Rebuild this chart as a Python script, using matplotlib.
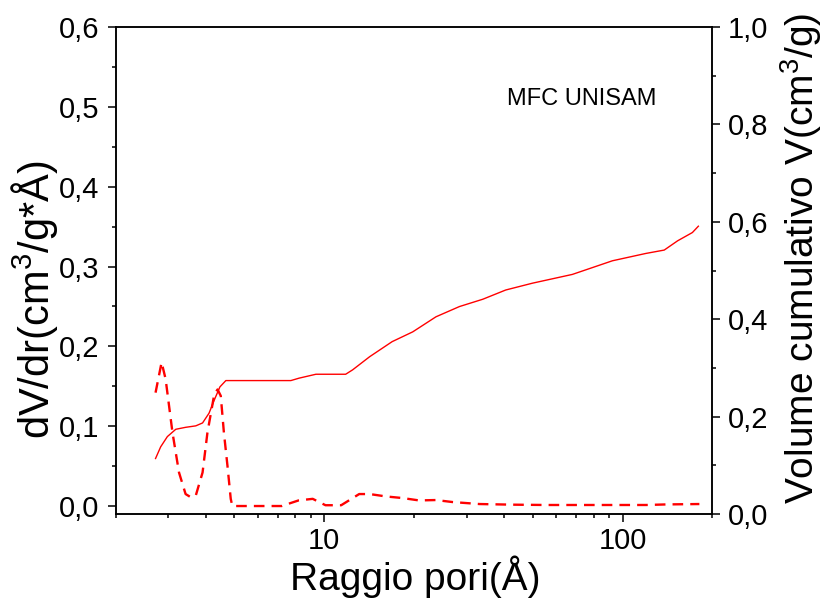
import matplotlib
matplotlib.use("Agg")
import matplotlib.pyplot as plt
from matplotlib.ticker import FuncFormatter, MultipleLocator, LogLocator, NullFormatter

plt.rcParams["font.family"] = ["Liberation Sans", "DejaVu Sans"]
plt.rcParams["mathtext.fontset"] = "custom"
plt.rcParams["mathtext.rm"] = "Liberation Sans"
plt.rcParams["mathtext.it"] = "Liberation Sans"

# dV/dr (left axis, dashed)
r_dv = [2.72, 2.85, 2.94, 3.10, 3.26, 3.43, 3.57, 3.71, 3.91, 4.06, 4.28, 4.39, 4.50,
        4.61, 4.74, 4.86, 4.92, 6.0, 7.2, 8.2, 9.15, 10.1, 11.4, 13.1, 14.2, 16.1,
        18.3, 20.8, 23.7, 26.9, 33.1, 42.8, 55.4, 72.0, 92.6, 120.0, 140.0, 181.0]
dvdr = [0.142, 0.180, 0.159, 0.092, 0.042, 0.015, 0.011, 0.013, 0.042, 0.092, 0.140,
        0.146, 0.138, 0.092, 0.050, 0.009, 0.0, 0.0, 0.0, 0.007, 0.009, 0.001, 0.001,
        0.015, 0.015, 0.012, 0.010, 0.007, 0.0075, 0.005, 0.0025, 0.0017, 0.0013,
        0.0013, 0.0013, 0.0013, 0.002, 0.0025]

# cumulative volume (right axis, solid)
r_cum = [2.72, 2.83, 2.98, 3.18, 3.43, 3.71, 3.91, 4.11, 4.28, 4.47, 4.68, 7.73, 8.24,
         9.38, 11.8, 12.45, 14.2, 16.9, 19.8, 23.7, 28.4, 34.0, 40.6, 49.9, 67.9,
         92.5, 119.6, 138.0, 153.0, 171.5, 179.6]
vcum = [0.114, 0.138, 0.159, 0.174, 0.178, 0.181, 0.187, 0.207, 0.234, 0.261, 0.274,
        0.274, 0.279, 0.287, 0.287, 0.296, 0.323, 0.354, 0.374, 0.405, 0.426, 0.441,
        0.460, 0.474, 0.492, 0.520, 0.535, 0.542, 0.561, 0.578, 0.591]

fig = plt.figure(figsize=(8.23, 6.06), dpi=100)
ax = fig.add_axes([0.1406, 0.1518, 0.7249, 0.8036])
ax2 = ax.twinx()

ax.plot(r_dv, dvdr, color="#ff0000", linewidth=1.7, dashes=(4.5, 3))
ax2.plot(r_cum, vcum, color="#ff0000", linewidth=1.0)

ax.set_xscale("log")
ax.set_xlim(2, 200)
ax.set_ylim(-0.01, 0.6)
ax2.set_ylim(0, 1.0)

comma = FuncFormatter(lambda v, p: f"{v:.1f}".replace(".", ","))
ax.yaxis.set_major_locator(MultipleLocator(0.1))
ax.yaxis.set_minor_locator(MultipleLocator(0.05))
ax.yaxis.set_major_formatter(comma)
ax2.yaxis.set_major_locator(MultipleLocator(0.2))
ax2.yaxis.set_minor_locator(MultipleLocator(0.1))
ax2.yaxis.set_major_formatter(comma)

ax.xaxis.set_major_locator(LogLocator(base=10, numticks=10))
ax.xaxis.set_minor_locator(LogLocator(base=10, subs=range(2, 10), numticks=20))
ax.xaxis.set_major_formatter(FuncFormatter(lambda v, p: f"{v:g}"))
ax.xaxis.set_minor_formatter(NullFormatter())

for a in (ax, ax2):
    for s in a.spines.values():
        s.set_linewidth(1.1)
    a.tick_params(which="major", direction="out", length=6, width=1.1, labelsize=21)
    a.tick_params(which="minor", direction="out", length=3, width=1.1)
ax.tick_params(axis="y", pad=6)
ax.tick_params(axis="x", pad=3)
ax2.tick_params(axis="y", pad=5)

ax.set_xlabel("Raggio pori(Å)", fontsize=28)
ax.xaxis.set_label_coords(0.502, -0.085)
ax.set_ylabel("dV/dr(cm$^3$/g*Å)", fontsize=30)
ax.yaxis.set_label_coords(-0.094, 0.44)
ax2.set_ylabel("Volume cumulativo V(cm$^3$/g)", fontsize=28)
ax2.yaxis.set_label_coords(1.11, 0.525)

ax.text(0.656, 0.852, "MFC UNISAM", transform=ax.transAxes, fontsize=17,
        ha="left", va="center")

fig.savefig("out.png", dpi=100)
